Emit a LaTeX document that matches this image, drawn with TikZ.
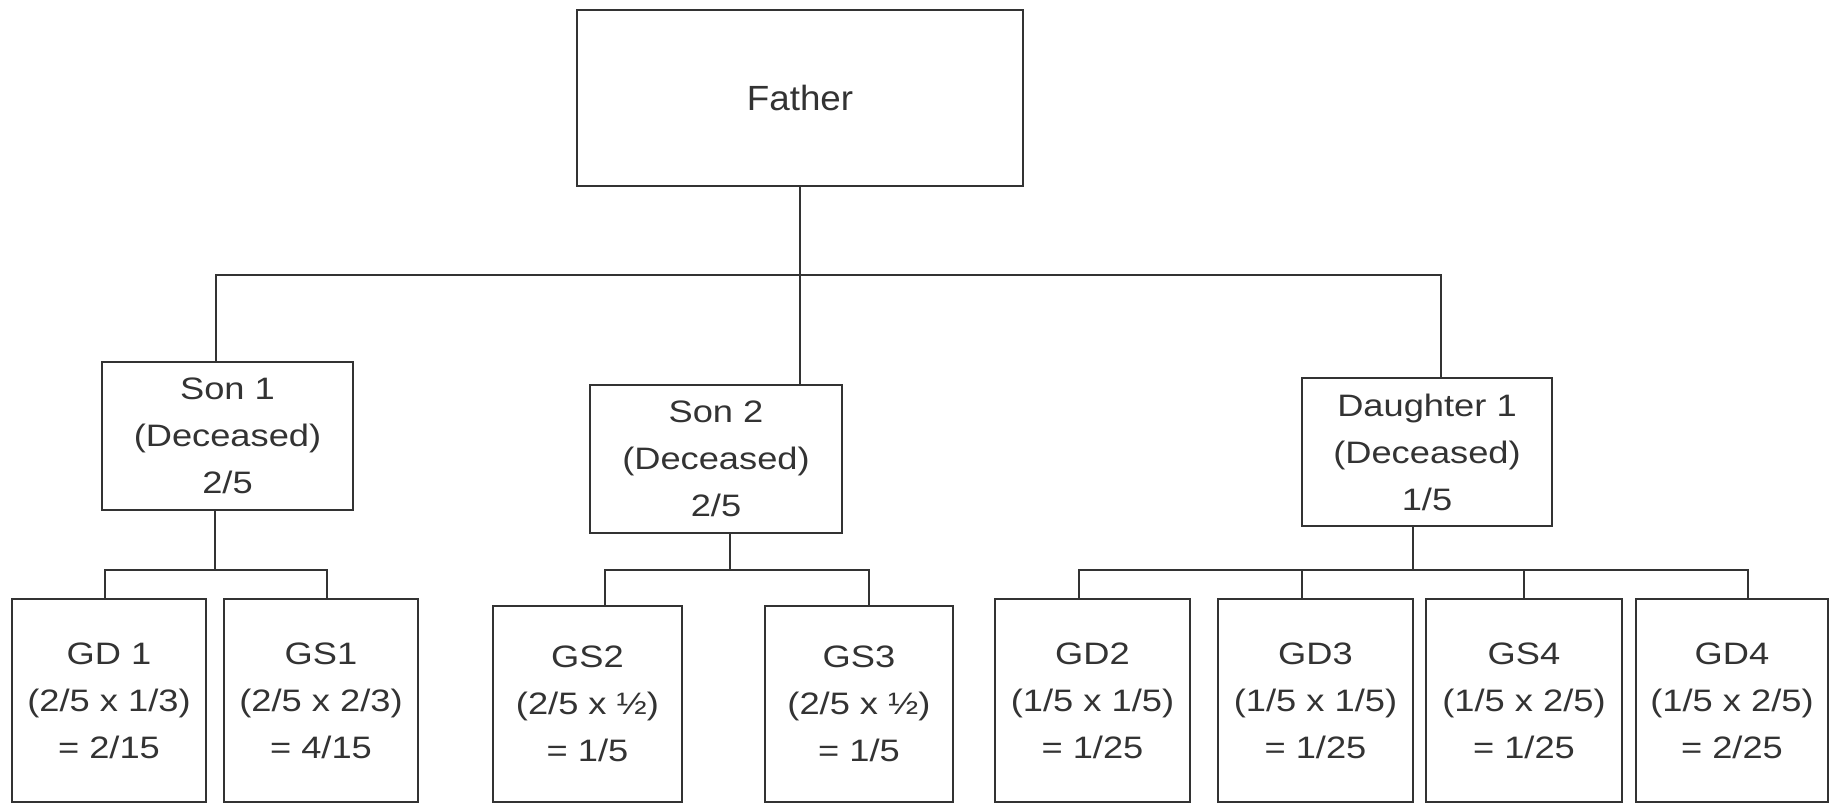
\documentclass[tikz,border=0pt]{standalone}
\usepackage{fontspec}
\setmainfont{Liberation Sans}
\newfontfamily\boxfont[FakeStretch=1.17]{Liberation Sans}
\newfontfamily\headfont[FakeStretch=1.05]{Liberation Sans}
\definecolor{ink}{HTML}{333333}
\begin{document}
\begin{tikzpicture}[x=1pt,y=-1pt,
  line width=2pt, draw=ink,
  box/.style={draw=ink, line width=2pt, inner sep=0pt, text=ink, align=center,
    font=\boxfont\fontsize{31}{47}\selectfont},
  headbox/.style={box, font=\headfont\fontsize{35}{42}\selectfont},
  link/.style={draw=ink, line width=2pt}]
  \clip (0,0) rectangle (1829,804);
  \fill[white] (0,0) rectangle (1829,804);

  % generation 1
  \node[headbox, minimum width=446pt, minimum height=176pt] (father) at (800,98) {Father};

  % generation 2
  \node[box, minimum width=251pt, minimum height=148pt] (son1) at (227.5,436) {Son 1\\(Deceased)\\2/5};
  \node[box, minimum width=252pt, minimum height=148pt] (son2) at (716,459) {Son 2\\(Deceased)\\2/5};
  \node[box, minimum width=250pt, minimum height=148pt] (dau) at (1427,452) {Daughter 1\\(Deceased)\\1/5};

  % generation 3
  \node[box, minimum width=194pt, minimum height=203pt] (gd1) at (109,700.5) {GD 1\\(2/5 x 1/3)\\= 2/15};
  \node[box, minimum width=194pt, minimum height=203pt] (gs1) at (321,700.5) {GS1\\(2/5 x 2/3)\\= 4/15};
  \node[box, minimum width=189pt, minimum height=196pt] (gs2) at (587.5,704) {GS2\\(2/5 x ½)\\= 1/5};
  \node[box, minimum width=188pt, minimum height=196pt] (gs3) at (859,704) {GS3\\(2/5 x ½)\\= 1/5};
  \node[box, minimum width=195pt, minimum height=203pt] (gd2) at (1092.5,700.5) {GD2\\(1/5 x 1/5)\\= 1/25};
  \node[box, minimum width=195pt, minimum height=203pt] (gd3) at (1315.5,700.5) {GD3\\(1/5 x 1/5)\\= 1/25};
  \node[box, minimum width=196pt, minimum height=203pt] (gs4) at (1524,700.5) {GS4\\(1/5 x 2/5)\\= 1/25};
  \node[box, minimum width=192pt, minimum height=203pt] (gd4) at (1732,700.5) {GD4\\(1/5 x 2/5)\\= 2/25};

  % junction points of the brackets
  \coordinate (tl) at (216,275);
  \coordinate (tr) at (1441,275);
  \coordinate (s1l) at (105,570);
  \coordinate (s1m) at (215,570);
  \coordinate (s1r) at (327,570);
  \coordinate (s2l) at (605,570);
  \coordinate (s2m) at (730,570);
  \coordinate (s2r) at (869,570);
  \coordinate (d1) at (1079,570);
  \coordinate (d2) at (1302,570);
  \coordinate (dm) at (1413,570);
  \coordinate (d3) at (1524,570);
  \coordinate (d4) at (1748,570);

  % father to children
  \draw[link] (father.south) -- (father.south |- son2.north);
  \draw[link] (tl |- son1.north) -- (tl) -- (tr) -- (tr |- dau.north);

  % son 1 to grandchildren
  \draw[link] (s1m |- son1.south) -- (s1m);
  \draw[link] (s1l |- gd1.north) -- (s1l) -- (s1r) -- (s1r |- gs1.north);

  % son 2 to grandchildren
  \draw[link] (s2m |- son2.south) -- (s2m);
  \draw[link] (s2l |- gs2.north) -- (s2l) -- (s2r) -- (s2r |- gs3.north);

  % daughter 1 to grandchildren
  \draw[link] (dm |- dau.south) -- (dm);
  \draw[link] (d1 |- gd2.north) -- (d1) -- (d4) -- (d4 |- gd4.north);
  \draw[link] (d2) -- (d2 |- gd3.north);
  \draw[link] (d3) -- (d3 |- gs4.north);
\end{tikzpicture}
\end{document}
